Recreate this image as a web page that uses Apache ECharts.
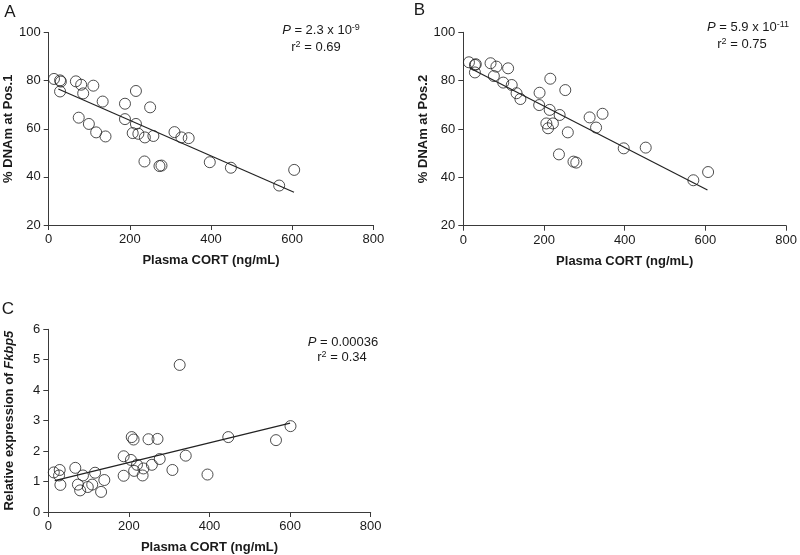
<!DOCTYPE html>
<html><head><meta charset="utf-8">
<script src="https://cdn.jsdelivr.net/npm/echarts/dist/echarts.min.js"></script>
<style>html,body{margin:0;padding:0;background:#fff}#c{width:800px;height:555px}</style>
</head><body><div id="c"></div>
<script>
// ---- data ----
const cortA = [13,28,30,28,67,80,85,110,133,74,99,117,140,188,215,188,215,207,221,237,258,250,236,273,278,310,327,345,397,449,568,605];
const dnamPos1 = [80.7,80.1,79.6,75.5,79.7,78.3,74.7,77.9,71.3,64.6,62,58.5,56.8,70.4,75.7,64,62,58.2,57.9,56.4,57,68.9,46.4,44.5,44.7,58.6,56.4,56.1,46.1,43.8,36.4,42.9];
const fitA = [[23.7,76.5],[604.6,33.6]];

const cortB = [14,28.8,31,28.8,67.5,82,75.7,99,111,120,132,141.5,189,188,215.6,252.7,214,238.7,205.8,210,222,259,237,273,280,313,329,345,397.5,452,570,606.6];
const dnamPos2 = [87.6,86.5,86.8,83.4,87.2,85.8,81.9,79.2,85.1,78.2,74.8,72.4,75,69.9,80.8,76.1,67.9,65.8,62.3,60.3,62.3,58.6,49.5,46.5,46.1,64.8,60.6,66.3,52,52.3,38.8,42.2];
const fitB = [[16,85.2],[605,34.8]];

const cortC = [13.6,28.3,26.7,30,67,73.5,79,86,98,109,116,131,139,187,187,207,211.6,205,213,220,234,236,248.6,257,271,276.5,308,326,341,395,446.6,565,601];
const fkbp5 = [1.30,1.38,1.20,0.89,1.45,0.90,0.71,1.20,0.82,0.90,1.29,0.66,1.05,1.19,1.83,2.46,2.38,1.71,1.35,1.55,1.20,1.43,2.39,1.55,2.40,1.74,1.38,4.83,1.85,1.23,2.46,2.36,2.82];
const fitC = [[16,1.03],[600,2.92]];

const xTitle = 'Plasma CORT (ng/mL)';
const yTitles = ['% DNAm at Pos.1', '% DNAm at Pos.2', 'Relative expression of {i|Fkbp5}'];
const panelLetters = ['A','B','C'];
const statP = ['{i|P} = 2.3 x 10{s|-9}', '{i|P} = 5.9 x 10{s|-11}', '{i|P} = 0.00036'];
const statR = ['r{s|2} = 0.69', 'r{s|2} = 0.75', 'r{s|2} = 0.34'];

// ---- chart ----
const FONT = '"Liberation Sans", Arial, Helvetica, sans-serif';
const AX = '#3a3a3a', TXT = '#1a1a1a';
const zip = (a,b) => a.map((v,i)=>[v,b[i]]);

function xAxis(gi){
  return {gridIndex: gi, type:'value', min:0, max:800, interval:200,
    name: xTitle, nameLocation:'middle', nameGap:29,
    nameTextStyle:{fontFamily:FONT, fontSize:13, fontWeight:'bold', color:TXT},
    axisLine:{lineStyle:{color:AX, width:1}},
    axisTick:{show:true, length:5, lineStyle:{color:AX}},
    axisLabel:{fontFamily:FONT, fontSize:13, color:TXT, margin:8},
    splitLine:{show:false}};
}
function yAxis(gi, min, max, interval, name){
  return {gridIndex: gi, type:'value', min, max, interval,
    name, nameLocation:'middle', nameGap:32,
    nameTextStyle:{fontFamily:FONT, fontSize:13, fontWeight:'bold', color:TXT,
      rich:{i:{fontFamily:FONT, fontSize:13, fontWeight:'bold', fontStyle:'italic', color:TXT}}},
    axisLine:{show:true, lineStyle:{color:AX, width:1}},
    axisTick:{show:true, length:5, lineStyle:{color:AX}},
    axisLabel:{fontFamily:FONT, fontSize:13, color:TXT, margin:8},
    splitLine:{show:false}};
}
function scatter(gi, data){
  return {type:'scatter', xAxisIndex:gi, yAxisIndex:gi, data, symbol:'circle', symbolSize:11,
    itemStyle:{color:'rgba(0,0,0,0)', borderColor:'#222', borderWidth:1}, z:3, silent:true};
}
function fit(gi, data){
  return {type:'line', xAxisIndex:gi, yAxisIndex:gi, data, showSymbol:false, symbol:'none',
    lineStyle:{color:'#222', width:1.2}, z:2, silent:true};
}
const rich = {
  i:{fontFamily:FONT, fontSize:13, fontStyle:'italic', fill:TXT, color:TXT},
  s:{fontFamily:FONT, fontSize:9, verticalAlign:'top', fill:TXT, color:TXT}
};
function txt(text, x, y, size){
  return {type:'text', style:{text, x, y, textAlign:'center', textVerticalAlign:'middle',
    fontFamily:FONT, fontSize:size||13, fill:TXT, rich}};
}

const chart = echarts.init(document.getElementById('c'), null, {renderer:'canvas'});
chart.setOption({
  animation:false,
  backgroundColor:'#fff',
  grid:[
    {left:48.7, top:32.5, width:324.6, height:192.5},
    {left:463.3, top:32.3, width:324, height:193.4},
    {left:48.3, top:329.3, width:322.4, height:185}
  ],
  xAxis:[xAxis(0), xAxis(1), xAxis(2)],
  yAxis:[yAxis(0,20,100,20,yTitles[0]), yAxis(1,20,100,20,yTitles[1]), yAxis(2,0,6,1,yTitles[2])],
  series:[
    fit(0, fitA), scatter(0, zip(cortA, dnamPos1)),
    fit(1, fitB), scatter(1, zip(cortB, dnamPos2)),
    fit(2, fitC), scatter(2, zip(cortC, fkbp5))
  ],
  graphic:[
    txt(panelLetters[0], 10, 12.5, 17),
    txt(panelLetters[1], 419.5, 10.5, 17),
    txt(panelLetters[2], 8, 309, 17),
    txt(statP[0], 321, 30), txt(statR[0], 316, 47),
    txt(statP[1], 748, 27), txt(statR[1], 742, 44),
    txt(statP[2], 343, 342), txt(statR[2], 342, 357)
  ]
});
</script></body></html>
